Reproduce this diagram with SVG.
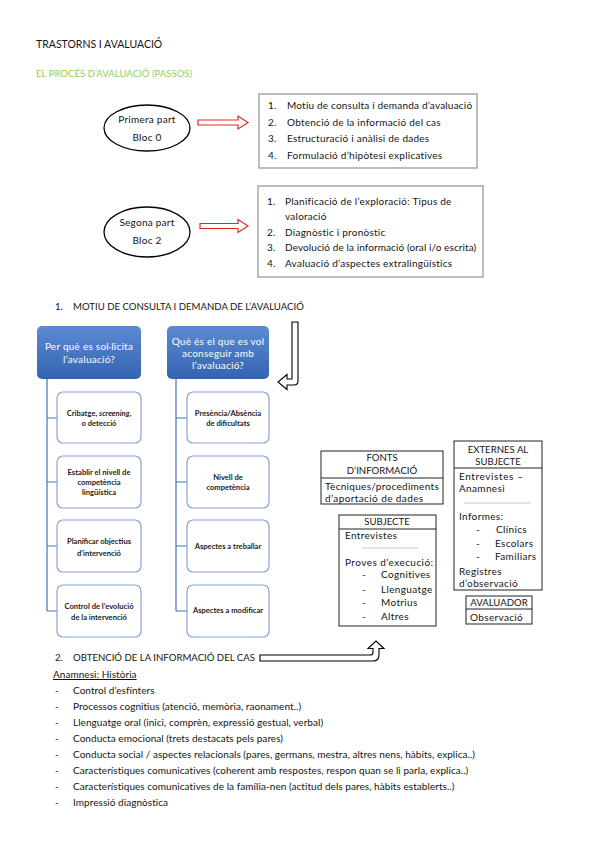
<svg xmlns="http://www.w3.org/2000/svg" width="599" height="848" viewBox="0 0 599 848">
<defs>
<style>
text{font-family:"Lato","Open Sans","Liberation Sans",sans-serif;fill:#141414;}
.t10{font-size:10px;}
.t95{font-size:10px;letter-spacing:0.25px;}
.bx{font-size:10px;letter-spacing:0.35px;}
.up{font-size:9.6px;}
.li{font-size:10px;letter-spacing:0.05px;}
.wh{fill:#ffffff;font-size:10px;letter-spacing:0.25px;text-anchor:middle;}
.sm{font-size:7.6px;font-weight:bold;text-anchor:middle;fill:#222;}
.c{text-anchor:middle;}
.ell{fill:#fff;stroke:#000;stroke-width:1.3;}
.box{fill:#fff;stroke:#9a9a9a;stroke-width:1.3;}
.red{fill:#fff;stroke:#e8281e;stroke-width:1.2;}
.blk{fill:#fff;stroke:#000;stroke-width:1.1;}
.child{fill:#fff;stroke:#86a2d8;stroke-width:1.2;}
.conn{fill:none;stroke:#4a70b8;stroke-width:1.2;}
.tb{fill:#fff;stroke:#222;stroke-width:1;}
.sep{stroke:#c8c8c8;stroke-width:1;}
</style>
<linearGradient id="blue" x1="0" y1="0" x2="0" y2="1">
<stop offset="0" stop-color="#5b8bd3"/>
<stop offset="1" stop-color="#3464b0"/>
</linearGradient>
</defs>
<rect width="599" height="848" fill="#fff"/>

<text x="36" y="48" class="t10" style="font-size:10.5px">TRASTORNS I AVALUACIÓ</text>
<text x="36" y="77" style="fill:#92d050;font-size:9.6px">EL PROCÉS D’AVALUACIÓ (PASSOS)</text>

<g id="primera">
<ellipse cx="147" cy="128" rx="43" ry="23" class="ell"/>
<text x="147" y="123" class="t95 c">Primera part</text>
<text x="147" y="141" class="t95 c">Bloc 0</text>
</g>
<g id="llista1">
<rect x="259" y="94" width="218" height="74" class="box"/>
<text x="268" y="109" class="t95">1.</text><text x="287" y="109" class="t95" style="letter-spacing:0.2px">Motiu de consulta i demanda d’avaluació</text>
<text x="268" y="125.5" class="t95">2.</text><text x="287" y="125.5" class="t95">Obtenció de la informació del cas</text>
<text x="268" y="142" class="t95">3.</text><text x="287" y="142" class="t95">Estructuració i anàlisi de dades</text>
<text x="268" y="158.5" class="t95">4.</text><text x="287" y="158.5" class="t95">Formulació d’hipòtesi explicatives</text>
</g>
<g id="segona">
<ellipse cx="147" cy="232" rx="43" ry="25" class="ell"/>
<text x="147" y="226" class="t95 c">Segona part</text>
<text x="147" y="244" class="t95 c">Bloc 2</text>
</g>
<g id="llista2">
<rect x="258" y="186" width="225" height="91" class="box"/>
<text x="267" y="205" class="t95">1.</text><text x="285" y="205" class="t95">Planificació de l’exploració: Tipus de</text>
<text x="285" y="220" class="t95">valoració</text>
<text x="267" y="236" class="t95">2.</text><text x="285" y="236" class="t95">Diagnòstic i pronòstic</text>
<text x="267" y="251" class="t95">3.</text><text x="285" y="251" class="t95" style="letter-spacing:0.1px">Devolució de la informació (oral i/o escrita)</text>
<text x="267" y="267" class="t95">4.</text><text x="285" y="267" class="t95">Avaluació d’aspectes extralingüístics</text>
</g>

<text x="55" y="310" class="up">1.</text>
<text x="73" y="310" class="up">MOTIU DE CONSULTA I DEMANDA DE L’AVALUACIÓ</text>

<g id="connectors">
<path d="M198,120 H238 V116 L248,122.5 L238,129 V125 H198 Z" class="red"/>
<path d="M200,223.5 H238 V219.5 L248,226 L238,232.5 V228.5 H200 Z" class="red"/>
<path d="M292,322 H298 V381 Q298,385 294,385 H287 V389.5 L278,382 L287,374.5 V379 H292 Z" class="blk"/>
<path d="M260,655 H371 Q373,655 373,652 V648.5 H368 L376,641 L384,648.5 H379 V655 Q379,661 373,661 H260 Z" class="blk"/>
<path d="M47,379 V611 M47,418 H57 M47,482 H57 M47,546 H57 M47,611 H57" class="conn"/>
<path d="M176,379 V611 M176,418 H187 M176,482 H187 M176,546 H187 M176,611 H187" class="conn"/>
</g>

<g id="perque">
<rect x="37" y="326" width="104" height="53" rx="5" fill="url(#blue)"/>
<text x="89" y="350" class="wh">Per què es sol·licita</text>
<text x="89" y="363" class="wh">l’avaluació?</text>
</g>
<g id="queesvol">
<rect x="167" y="326" width="102" height="53" rx="5" fill="url(#blue)"/>
<text x="218" y="345" class="wh">Què és el que es vol</text>
<text x="218" y="357" class="wh">aconseguir amb</text>
<text x="218" y="369" class="wh">l’avaluació?</text>
</g>

<g id="cribatge">
<rect x="57" y="392" width="84" height="51" rx="6" class="child"/>
<text x="99" y="416" class="sm">Cribatge, <tspan font-style="italic">screening</tspan>,</text>
<text x="99" y="426" class="sm">o detecció</text>
</g>
<g id="establir">
<rect x="57" y="456" width="84" height="52" rx="6" class="child"/>
<text x="99" y="475" class="sm">Establir el nivell de</text>
<text x="99" y="485" class="sm">competència</text>
<text x="99" y="495" class="sm">lingüística</text>
</g>
<g id="planificar">
<rect x="57" y="520" width="84" height="52" rx="6" class="child"/>
<text x="99" y="544" class="sm">Planificar objectius</text>
<text x="99" y="556" class="sm">d’intervenció</text>
</g>
<g id="control">
<rect x="57" y="585" width="84" height="52" rx="6" class="child"/>
<text x="99" y="609" class="sm">Control de l’evolució</text>
<text x="99" y="620" class="sm">de la intervenció</text>
</g>

<g id="presencia">
<rect x="187" y="392" width="82" height="51" rx="6" class="child"/>
<text x="228" y="416" class="sm">Presència/Absència</text>
<text x="228" y="426" class="sm">de dificultats</text>
</g>
<g id="nivell">
<rect x="187" y="456" width="82" height="52" rx="6" class="child"/>
<text x="228" y="480" class="sm">Nivell de</text>
<text x="228" y="490" class="sm">competència</text>
</g>
<g id="treballar">
<rect x="187" y="520" width="82" height="52" rx="6" class="child"/>
<text x="228" y="549" class="sm">Aspectes a treballar</text>
</g>
<g id="modificar">
<rect x="187" y="585" width="82" height="52" rx="6" class="child"/>
<text x="228" y="613" class="sm">Aspectes a modificar</text>
</g>

<g id="fonts">
<rect x="321" y="451" width="122" height="53" class="tb"/>
<line x1="321" y1="478" x2="443" y2="478" stroke="#222" stroke-width="1"/>
<text x="382" y="461" class="up c">FONTS</text>
<text x="382" y="474" class="up c">D’INFORMACIÓ</text>
<text x="325" y="490" class="bx" style="letter-spacing:0.3px">Tècniques/procediments</text>
<text x="325" y="502" class="bx" style="letter-spacing:0.4px">d’aportació de dades</text>
</g>
<g id="externes">
<rect x="454" y="441" width="88" height="149" class="tb"/>
<line x1="454" y1="468" x2="542" y2="468" stroke="#222" stroke-width="1"/>
<text x="498" y="453" class="up c">EXTERNES AL</text>
<text x="498" y="465" class="up c">SUBJECTE</text>
<text x="459" y="480" class="bx" style="letter-spacing:0.6px">Entrevistes –</text>
<text x="459" y="492" class="bx">Anamnesi</text>
<line x1="464" y1="503" x2="531" y2="503" class="sep"/>
<text x="459" y="520" class="bx">Informes:</text>
<text x="476" y="533" class="bx">-</text><text x="496" y="533" class="bx">Clínics</text>
<text x="476" y="547" class="bx">-</text><text x="495" y="547" class="bx">Escolars</text>
<text x="476" y="560" class="bx">-</text><text x="495" y="560" class="bx">Familiars</text>
<text x="459" y="575" class="bx">Registres</text>
<text x="459" y="587" class="bx">d’observació</text>
</g>
<g id="subjecte">
<rect x="339" y="515" width="97" height="111" class="tb"/>
<line x1="339" y1="529" x2="436" y2="529" stroke="#222" stroke-width="1"/>
<text x="387" y="525" class="up c">SUBJECTE</text>
<text x="345" y="539" class="bx">Entrevistes</text>
<line x1="362" y1="548" x2="418" y2="548" class="sep"/>
<text x="345" y="566" class="bx" style="letter-spacing:0.45px">Proves d’execució:</text>
<text x="362" y="578" class="bx">-</text><text x="381" y="578" class="bx">Cognitives</text>
<text x="362" y="593" class="bx">-</text><text x="381" y="593" class="bx">Llenguatge</text>
<text x="362" y="606" class="bx">-</text><text x="381" y="606" class="bx">Motrius</text>
<text x="362" y="620" class="bx">-</text><text x="381" y="620" class="bx">Altres</text>
</g>
<g id="avaluador">
<rect x="466" y="596" width="66" height="28" class="tb"/>
<line x1="466" y1="609" x2="532" y2="609" stroke="#222" stroke-width="1"/>
<text x="499" y="606" class="up c">AVALUADOR</text>
<text x="470" y="621" class="bx">Observació</text>
</g>

<text x="55" y="661" class="up">2.</text>
<text x="73" y="661" class="up">OBTENCIÓ DE LA INFORMACIÓ DEL CAS</text>
<text x="53" y="678" class="li" text-decoration="underline">Anamnesi: Història</text>
<g class="li">
<text x="55" y="694">-</text><text x="73" y="694">Control d’esfínters</text>
<text x="55" y="710">-</text><text x="73" y="710">Processos cognitius (atenció, memòria, raonament..)</text>
<text x="55" y="726">-</text><text x="73" y="726">Llenguatge oral (inici, comprèn, expressió gestual, verbal)</text>
<text x="55" y="742">-</text><text x="73" y="742">Conducta emocional (trets destacats pels pares)</text>
<text x="55" y="758">-</text><text x="73" y="758">Conducta social / aspectes relacionals (pares, germans, mestra, altres nens, hàbits, explica..)</text>
<text x="55" y="774">-</text><text x="73" y="774">Característiques comunicatives (coherent amb respostes, respon quan se li parla, explica..)</text>
<text x="55" y="790">-</text><text x="73" y="790">Característiques comunicatives de la família-nen (actitud dels pares, hàbits establerts..)</text>
<text x="55" y="806">-</text><text x="73" y="806">Impressió diagnòstica</text>
</g>
</svg>
